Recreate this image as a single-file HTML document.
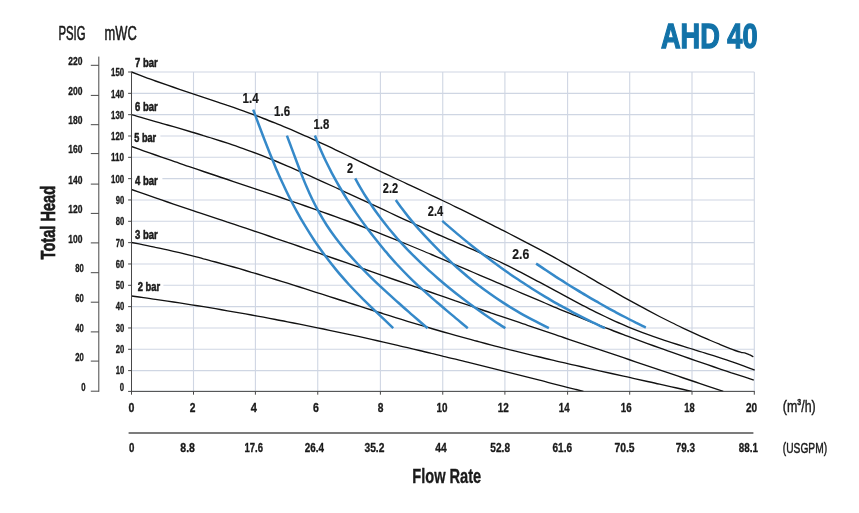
<!DOCTYPE html>
<html><head><meta charset="utf-8"><title>AHD 40</title>
<style>
html,body{margin:0;padding:0;background:#fff;}
body{width:859px;height:513px;overflow:hidden;}
svg{display:block;font-family:"Liberation Sans",sans-serif;}
</style></head><body>
<svg width="859" height="513" viewBox="0 0 859 513">
<rect width="859" height="513" fill="#fff"/>
<path d="M131.50 72.00V391.40M193.50 72.00V391.40M255.40 72.00V391.40M317.75 72.00V391.40M380.40 72.00V391.40M442.75 72.00V391.40M504.90 72.00V391.40M567.60 72.00V391.40M629.70 72.00V391.40M692.00 72.00V391.40M754.30 72.00V391.40M131.50 72.00H754.30M131.50 93.33H754.30M131.50 114.66H754.30M131.50 135.99H754.30M131.50 157.32H754.30M131.50 178.65H754.30M131.50 199.98H754.30M131.50 221.31H754.30M131.50 242.64H754.30M131.50 263.97H754.30M131.50 285.30H754.30M131.50 306.63H754.30M131.50 327.96H754.30M131.50 349.29H754.30M131.50 370.62H754.30M131.50 391.40H754.30" stroke="#cfd6e3" stroke-width="1.1" fill="none"/>
<rect x="132.4" y="131.4" width="28.0" height="12" fill="#fff"/>
<rect x="132.4" y="174.6" width="30.0" height="12" fill="#fff"/>
<rect x="132.4" y="280.6" width="31.0" height="12" fill="#fff"/>
<path d="M131.5 72.0C133.5 72.8 139.5 75.1 143.5 76.6C147.5 78.1 151.5 79.6 155.5 81.0C159.5 82.4 163.5 83.8 167.5 85.2C171.5 86.6 175.5 87.9 179.5 89.3C183.5 90.6 187.5 92.0 191.5 93.3C195.5 94.6 199.5 96.0 203.5 97.3C207.5 98.6 211.5 100.0 215.5 101.3C219.5 102.6 223.5 104.0 227.5 105.4C231.5 106.7 235.5 108.1 239.5 109.6C243.5 111.0 247.5 112.4 251.5 113.9C255.5 115.4 259.5 116.9 263.5 118.5C267.5 120.0 271.5 121.6 275.5 123.2C279.5 124.8 283.5 126.5 287.5 128.2C291.5 129.9 295.5 131.6 299.5 133.4C303.5 135.1 307.5 136.9 311.5 138.7C315.5 140.5 319.5 142.3 323.5 144.2C327.5 146.0 331.5 147.9 335.5 149.8C339.5 151.7 343.5 153.6 347.5 155.5C351.5 157.4 355.5 159.4 359.5 161.3C363.5 163.2 367.5 165.1 371.5 167.1C375.5 169.0 379.5 170.9 383.5 172.8C387.5 174.7 391.5 176.6 395.5 178.5C399.5 180.3 403.5 182.2 407.5 184.1C411.5 185.9 415.5 187.8 419.5 189.7C423.5 191.6 427.5 193.4 431.5 195.3C435.5 197.2 439.5 199.1 443.5 201.0C447.5 202.9 451.5 204.8 455.5 206.8C459.5 208.7 463.5 210.7 467.5 212.6C471.5 214.6 475.5 216.6 479.5 218.6C483.5 220.6 487.5 222.6 491.5 224.6C495.5 226.6 499.5 228.6 503.5 230.7C507.5 232.7 511.5 234.8 515.5 236.8C519.5 238.9 523.5 241.0 527.5 243.1C531.5 245.2 535.5 247.3 539.5 249.4C543.5 251.6 547.5 253.7 551.5 255.9C555.5 258.1 559.5 260.3 563.5 262.6C567.5 264.8 571.5 267.1 575.5 269.4C579.5 271.6 583.5 274.0 587.5 276.3C591.5 278.6 595.5 280.9 599.5 283.3C603.5 285.6 607.5 287.9 611.5 290.2C615.5 292.5 619.5 294.8 623.5 297.1C627.5 299.3 631.5 301.5 635.5 303.7C639.5 305.9 643.5 308.1 647.5 310.2C651.5 312.3 655.5 314.4 659.5 316.5C663.5 318.5 667.5 320.5 671.5 322.5C675.5 324.5 679.5 326.4 683.5 328.3C687.5 330.2 691.5 332.0 695.5 333.9C699.5 335.7 703.5 337.4 707.5 339.2C711.5 340.9 714.9 342.4 719.5 344.2C724.1 346.1 731.6 349.2 735.2 350.5C738.8 351.8 739.4 351.9 741.0 352.3C742.6 352.7 743.3 352.5 744.7 352.9C746.1 353.3 747.8 354.0 749.2 354.6C750.7 355.2 752.7 356.4 753.4 356.7" stroke="#111" stroke-width="1.35" fill="none"/>
<path d="M131.5 114.7C133.5 115.2 139.5 117.0 143.5 118.1C147.5 119.3 151.5 120.4 155.5 121.6C159.5 122.7 163.5 123.8 167.5 125.0C171.5 126.1 175.5 127.3 179.5 128.4C183.5 129.6 187.5 130.8 191.5 132.0C195.5 133.1 199.5 134.3 203.5 135.6C207.5 136.8 211.5 138.0 215.5 139.3C219.5 140.6 223.5 141.9 227.5 143.2C231.5 144.5 235.5 145.9 239.5 147.3C243.5 148.7 247.5 150.1 251.5 151.6C255.5 153.1 259.5 154.6 263.5 156.2C267.5 157.8 271.5 159.4 275.5 161.0C279.5 162.7 283.5 164.4 287.5 166.1C291.5 167.8 295.5 169.5 299.5 171.3C303.5 173.1 307.5 174.8 311.5 176.6C315.5 178.4 319.5 180.2 323.5 182.1C327.5 183.9 331.5 185.7 335.5 187.5C339.5 189.4 343.5 191.2 347.5 193.1C351.5 194.9 355.5 196.8 359.5 198.6C363.5 200.5 367.5 202.3 371.5 204.2C375.5 206.0 379.5 207.9 383.5 209.7C387.5 211.6 391.5 213.4 395.5 215.3C399.5 217.1 403.5 218.9 407.5 220.8C411.5 222.6 415.5 224.4 419.5 226.2C423.5 228.0 427.5 229.8 431.5 231.6C435.5 233.4 439.5 235.2 443.5 236.9C447.5 238.7 451.5 240.4 455.5 242.1C459.5 243.9 463.5 245.6 467.5 247.3C471.5 249.1 475.5 250.8 479.5 252.6C483.5 254.4 487.5 256.1 491.5 258.0C495.5 259.8 499.5 261.7 503.5 263.6C507.5 265.6 511.5 267.6 515.5 269.6C519.5 271.6 523.5 273.7 527.5 275.8C531.5 277.9 535.5 280.0 539.5 282.2C543.5 284.3 547.5 286.5 551.5 288.6C555.5 290.8 559.5 293.0 563.5 295.1C567.5 297.3 571.5 299.4 575.5 301.6C579.5 303.7 583.5 305.8 587.5 307.8C591.5 309.9 595.5 311.9 599.5 313.9C603.5 315.8 607.5 317.7 611.5 319.6C615.5 321.4 619.5 323.2 623.5 324.9C627.5 326.7 631.5 328.3 635.5 329.9C639.5 331.5 643.5 333.0 647.5 334.4C651.5 335.9 655.5 337.3 659.5 338.6C663.5 340.0 667.5 341.3 671.5 342.6C675.5 343.9 679.5 345.1 683.5 346.4C687.5 347.6 691.5 348.8 695.5 350.1C699.5 351.3 703.5 352.5 707.5 353.8C711.5 355.1 715.5 356.3 719.5 357.6C723.5 358.9 727.5 360.2 731.5 361.6C735.5 363.0 739.6 364.5 743.5 365.9C747.4 367.3 752.8 369.5 754.7 370.2" stroke="#111" stroke-width="1.35" fill="none"/>
<path d="M131.5 146.5C133.5 147.2 139.5 149.4 143.5 150.8C147.5 152.2 151.5 153.6 155.5 155.0C159.5 156.4 163.5 157.8 167.5 159.2C171.5 160.6 175.5 162.0 179.5 163.3C183.5 164.7 187.5 166.1 191.5 167.4C195.5 168.8 199.5 170.1 203.5 171.5C207.5 172.8 211.5 174.2 215.5 175.5C219.5 176.9 223.5 178.2 227.5 179.5C231.5 180.9 235.5 182.2 239.5 183.6C243.5 184.9 247.5 186.3 251.5 187.6C255.5 188.9 259.5 190.3 263.5 191.6C267.5 193.0 271.5 194.3 275.5 195.7C279.5 197.1 283.5 198.4 287.5 199.8C291.5 201.2 295.5 202.5 299.5 203.9C303.5 205.3 307.5 206.7 311.5 208.1C315.5 209.5 319.5 210.9 323.5 212.3C327.5 213.8 331.5 215.2 335.5 216.7C339.5 218.1 343.5 219.6 347.5 221.0C351.5 222.5 355.5 224.0 359.5 225.5C363.5 227.0 367.5 228.6 371.5 230.1C375.5 231.7 379.5 233.2 383.5 234.8C387.5 236.4 391.5 238.0 395.5 239.6C399.5 241.2 403.5 242.9 407.5 244.5C411.5 246.2 415.5 247.8 419.5 249.5C423.5 251.2 427.5 252.9 431.5 254.5C435.5 256.2 439.5 257.9 443.5 259.6C447.5 261.4 451.5 263.1 455.5 264.8C459.5 266.5 463.5 268.2 467.5 269.9C471.5 271.6 475.5 273.4 479.5 275.1C483.5 276.8 487.5 278.5 491.5 280.2C495.5 282.0 499.5 283.7 503.5 285.4C507.5 287.1 511.5 288.8 515.5 290.5C519.5 292.2 523.5 293.9 527.5 295.6C531.5 297.3 535.5 299.0 539.5 300.7C543.5 302.4 547.5 304.1 551.5 305.8C555.5 307.4 559.5 309.1 563.5 310.8C567.5 312.4 571.5 314.0 575.5 315.7C579.5 317.3 583.5 318.9 587.5 320.5C591.5 322.1 595.5 323.7 599.5 325.3C603.5 326.9 607.5 328.5 611.5 330.0C615.5 331.6 619.5 333.1 623.5 334.6C627.5 336.1 631.5 337.7 635.5 339.1C639.5 340.6 643.5 342.1 647.5 343.6C651.5 345.0 655.5 346.5 659.5 347.9C663.5 349.4 667.5 350.8 671.5 352.2C675.5 353.6 679.5 355.0 683.5 356.4C687.5 357.8 691.5 359.2 695.5 360.6C699.5 362.0 703.5 363.3 707.5 364.7C711.5 366.1 715.5 367.4 719.5 368.8C723.5 370.1 727.5 371.4 731.5 372.8C735.5 374.1 739.8 375.5 743.5 376.7C747.2 377.9 752.1 379.5 753.8 380.1" stroke="#111" stroke-width="1.35" fill="none"/>
<path d="M131.5 189.5C133.5 190.2 139.5 192.3 143.5 193.7C147.5 195.1 151.5 196.5 155.5 197.9C159.5 199.3 163.5 200.6 167.5 202.0C171.5 203.4 175.5 204.7 179.5 206.1C183.5 207.4 187.5 208.8 191.5 210.1C195.5 211.5 199.5 212.8 203.5 214.1C207.5 215.5 211.5 216.8 215.5 218.2C219.5 219.5 223.5 220.8 227.5 222.2C231.5 223.5 235.5 224.8 239.5 226.2C243.5 227.5 247.5 228.8 251.5 230.2C255.5 231.5 259.5 232.9 263.5 234.2C267.5 235.6 271.5 236.9 275.5 238.3C279.5 239.7 283.5 241.0 287.5 242.4C291.5 243.8 295.5 245.1 299.5 246.5C303.5 247.9 307.5 249.3 311.5 250.7C315.5 252.0 319.5 253.4 323.5 254.8C327.5 256.2 331.5 257.6 335.5 259.0C339.5 260.4 343.5 261.8 347.5 263.2C351.5 264.6 355.5 266.0 359.5 267.4C363.5 268.8 367.5 270.2 371.5 271.6C375.5 273.0 379.5 274.4 383.5 275.8C387.5 277.2 391.5 278.6 395.5 280.0C399.5 281.4 403.5 282.8 407.5 284.2C411.5 285.6 415.5 287.0 419.5 288.3C423.5 289.7 427.5 291.1 431.5 292.5C435.5 293.9 439.5 295.2 443.5 296.6C447.5 298.0 451.5 299.4 455.5 300.8C459.5 302.1 463.5 303.5 467.5 304.9C471.5 306.2 475.5 307.6 479.5 309.0C483.5 310.3 487.5 311.7 491.5 313.1C495.5 314.4 499.5 315.8 503.5 317.2C507.5 318.5 511.5 319.9 515.5 321.2C519.5 322.6 523.5 324.0 527.5 325.3C531.5 326.7 535.5 328.0 539.5 329.4C543.5 330.7 547.5 332.1 551.5 333.4C555.5 334.8 559.5 336.2 563.5 337.5C567.5 338.9 571.5 340.2 575.5 341.6C579.5 342.9 583.5 344.3 587.5 345.6C591.5 347.0 595.5 348.3 599.5 349.7C603.5 351.0 607.5 352.4 611.5 353.7C615.5 355.0 619.5 356.4 623.5 357.7C627.5 359.1 631.5 360.4 635.5 361.8C639.5 363.1 643.5 364.5 647.5 365.8C651.5 367.2 655.5 368.5 659.5 369.9C663.5 371.2 667.5 372.6 671.5 373.9C675.5 375.3 679.5 376.6 683.5 378.0C687.5 379.3 691.5 380.7 695.5 382.0C699.5 383.4 702.9 384.5 707.5 386.1C712.1 387.6 720.7 390.5 723.3 391.4" stroke="#111" stroke-width="1.35" fill="none"/>
<path d="M131.5 242.5C133.5 242.9 139.5 244.0 143.5 244.8C147.5 245.6 151.5 246.4 155.5 247.3C159.5 248.1 163.5 249.0 167.5 249.9C171.5 250.8 175.5 251.8 179.5 252.7C183.5 253.7 187.5 254.7 191.5 255.7C195.5 256.7 199.5 257.7 203.5 258.8C207.5 259.8 211.5 260.9 215.5 262.0C219.5 263.1 223.5 264.2 227.5 265.3C231.5 266.4 235.5 267.6 239.5 268.7C243.5 269.9 247.5 271.1 251.5 272.3C255.5 273.4 259.5 274.6 263.5 275.8C267.5 277.1 271.5 278.3 275.5 279.5C279.5 280.7 283.5 282.0 287.5 283.2C291.5 284.5 295.5 285.7 299.5 287.0C303.5 288.3 307.5 289.5 311.5 290.8C315.5 292.1 319.5 293.4 323.5 294.6C327.5 295.9 331.5 297.2 335.5 298.5C339.5 299.8 343.5 301.1 347.5 302.3C351.5 303.6 355.5 304.9 359.5 306.2C363.5 307.5 367.5 308.7 371.5 310.0C375.5 311.3 379.5 312.6 383.5 313.8C387.5 315.1 391.5 316.3 395.5 317.6C399.5 318.8 403.5 320.1 407.5 321.3C411.5 322.5 415.5 323.7 419.5 324.9C423.5 326.1 427.5 327.3 431.5 328.5C435.5 329.7 439.5 330.8 443.5 332.0C447.5 333.1 451.5 334.3 455.5 335.4C459.5 336.5 463.5 337.6 467.5 338.7C471.5 339.8 475.5 340.9 479.5 341.9C483.5 343.0 487.5 344.0 491.5 345.1C495.5 346.1 499.5 347.1 503.5 348.2C507.5 349.2 511.5 350.2 515.5 351.2C519.5 352.2 523.5 353.1 527.5 354.1C531.5 355.1 535.5 356.0 539.5 357.0C543.5 358.0 547.5 358.9 551.5 359.8C555.5 360.8 559.5 361.7 563.5 362.6C567.5 363.6 571.5 364.5 575.5 365.4C579.5 366.3 583.5 367.2 587.5 368.1C591.5 369.0 595.5 369.9 599.5 370.8C603.5 371.7 607.5 372.6 611.5 373.5C615.5 374.4 619.5 375.3 623.5 376.2C627.5 377.1 631.5 378.0 635.5 378.8C639.5 379.7 643.5 380.6 647.5 381.5C651.5 382.4 655.5 383.3 659.5 384.1C663.5 385.0 667.5 385.9 671.5 386.8C675.5 387.7 680.1 388.7 683.5 389.5C686.9 390.3 690.6 391.1 692.0 391.4" stroke="#111" stroke-width="1.35" fill="none"/>
<path d="M131.5 296.0C133.5 296.3 139.5 297.1 143.5 297.6C147.5 298.2 151.5 298.8 155.5 299.3C159.5 299.9 163.5 300.5 167.5 301.1C171.5 301.7 175.5 302.3 179.5 302.9C183.5 303.5 187.5 304.2 191.5 304.8C195.5 305.4 199.5 306.1 203.5 306.7C207.5 307.4 211.5 308.0 215.5 308.7C219.5 309.4 223.5 310.1 227.5 310.8C231.5 311.5 235.5 312.2 239.5 312.9C243.5 313.6 247.5 314.3 251.5 315.0C255.5 315.7 259.5 316.5 263.5 317.2C267.5 318.0 271.5 318.7 275.5 319.5C279.5 320.2 283.5 321.0 287.5 321.8C291.5 322.6 295.5 323.4 299.5 324.2C303.5 325.0 307.5 325.8 311.5 326.6C315.5 327.4 319.5 328.2 323.5 329.0C327.5 329.9 331.5 330.7 335.5 331.6C339.5 332.4 343.5 333.3 347.5 334.1C351.5 335.0 355.5 335.8 359.5 336.7C363.5 337.6 367.5 338.5 371.5 339.4C375.5 340.3 379.5 341.2 383.5 342.1C387.5 343.0 391.5 343.9 395.5 344.8C399.5 345.8 403.5 346.7 407.5 347.6C411.5 348.6 415.5 349.5 419.5 350.5C423.5 351.4 427.5 352.4 431.5 353.4C435.5 354.3 439.5 355.3 443.5 356.3C447.5 357.2 451.5 358.2 455.5 359.2C459.5 360.2 463.5 361.2 467.5 362.1C471.5 363.1 475.5 364.1 479.5 365.1C483.5 366.1 487.5 367.1 491.5 368.1C495.5 369.1 499.5 370.1 503.5 371.1C507.5 372.1 511.5 373.2 515.5 374.2C519.5 375.2 523.5 376.2 527.5 377.2C531.5 378.2 535.5 379.2 539.5 380.2C543.5 381.3 547.5 382.3 551.5 383.3C555.5 384.3 559.5 385.3 563.5 386.3C567.5 387.4 572.2 388.5 575.5 389.4C578.8 390.2 582.2 391.1 583.5 391.4" stroke="#111" stroke-width="1.35" fill="none"/>
<path d="M253.2 109.6C254.1 112.0 256.8 119.3 258.6 124.2C260.4 129.0 262.2 133.9 264.1 138.7C266.0 143.6 267.9 148.5 269.8 153.3C271.8 158.2 273.8 163.0 275.8 167.9C277.9 172.8 280.0 177.6 282.3 182.5C284.5 187.3 286.8 192.2 289.2 197.0C291.7 201.9 294.2 206.8 296.9 211.6C299.5 216.5 302.3 221.3 305.3 226.2C308.2 231.0 311.3 235.9 314.5 240.8C317.8 245.6 321.2 250.5 324.8 255.3C328.4 260.2 332.2 265.0 336.2 269.9C340.2 274.8 344.5 279.6 348.9 284.5C353.4 289.3 358.2 294.2 363.0 299.1C367.9 303.9 373.0 308.8 378.0 313.6C383.1 318.5 390.7 325.8 393.2 328.2" stroke="#3589c9" stroke-width="2.5" fill="none"/>
<path d="M286.9 135.6C287.7 137.7 290.1 144.2 291.7 148.4C293.3 152.7 294.9 157.0 296.5 161.3C298.1 165.6 299.7 169.8 301.4 174.1C303.1 178.4 304.8 182.7 306.7 187.0C308.5 191.2 310.4 195.5 312.5 199.8C314.6 204.1 316.8 208.4 319.2 212.6C321.6 216.9 324.2 221.2 326.9 225.5C329.7 229.8 332.7 234.0 335.9 238.3C339.1 242.6 342.6 246.9 346.2 251.2C349.9 255.4 353.8 259.7 357.8 264.0C361.8 268.3 366.1 272.6 370.4 276.8C374.8 281.1 379.3 285.4 383.9 289.7C388.5 294.0 393.3 298.2 398.1 302.5C402.8 306.8 407.8 311.1 412.7 315.4C417.6 319.6 425.1 326.1 427.6 328.2" stroke="#3589c9" stroke-width="2.5" fill="none"/>
<path d="M314.9 135.6C315.8 137.7 318.2 144.2 320.1 148.4C321.9 152.7 323.9 157.0 325.9 161.3C328.0 165.6 330.2 169.8 332.4 174.1C334.7 178.4 337.1 182.7 339.6 187.0C342.1 191.2 344.7 195.5 347.4 199.8C350.2 204.1 353.0 208.4 355.9 212.6C358.9 216.9 361.9 221.2 365.1 225.5C368.2 229.8 371.5 234.0 374.9 238.3C378.3 242.6 381.7 246.9 385.3 251.2C389.0 255.4 392.7 259.7 396.6 264.0C400.6 268.3 404.7 272.6 409.0 276.8C413.3 281.1 417.9 285.4 422.6 289.7C427.3 294.0 432.3 298.2 437.2 302.5C442.2 306.8 447.4 311.1 452.5 315.4C457.6 319.6 465.2 326.1 467.8 328.2" stroke="#3589c9" stroke-width="2.5" fill="none"/>
<path d="M355.2 178.3C356.1 180.0 358.8 185.0 360.8 188.3C362.7 191.6 364.7 195.0 366.9 198.3C369.0 201.6 371.2 204.9 373.5 208.3C375.8 211.6 378.3 214.9 380.8 218.3C383.3 221.6 385.9 224.9 388.6 228.3C391.4 231.6 394.2 234.9 397.1 238.3C400.1 241.6 403.1 244.9 406.3 248.3C409.4 251.6 412.7 254.9 416.0 258.2C419.4 261.6 422.9 264.9 426.5 268.2C430.1 271.6 433.9 274.9 437.7 278.2C441.6 281.6 445.5 284.9 449.6 288.2C453.7 291.6 457.9 294.9 462.3 298.2C466.7 301.6 471.2 304.9 475.8 308.2C480.4 311.5 485.2 314.9 490.1 318.2C495.0 321.5 502.8 326.5 505.3 328.2" stroke="#3589c9" stroke-width="2.5" fill="none"/>
<path d="M395.8 200.0C396.8 201.4 399.8 205.7 402.0 208.5C404.1 211.4 406.3 214.2 408.6 217.1C410.9 219.9 413.3 222.8 415.7 225.6C418.2 228.5 420.7 231.3 423.3 234.2C425.9 237.0 428.6 239.9 431.3 242.7C434.0 245.6 436.9 248.4 439.8 251.3C442.7 254.1 445.6 257.0 448.7 259.8C451.7 262.7 454.8 265.5 458.0 268.4C461.2 271.2 464.5 274.1 468.0 276.9C471.5 279.8 475.0 282.6 478.7 285.5C482.5 288.3 486.3 291.2 490.4 294.0C494.4 296.9 498.6 299.7 503.1 302.6C507.5 305.4 512.1 308.3 516.9 311.1C521.8 314.0 526.9 316.8 532.2 319.7C537.5 322.5 546.1 326.8 548.9 328.2" stroke="#3589c9" stroke-width="2.5" fill="none"/>
<path d="M442.2 220.9C444.7 223.0 452.1 229.5 457.0 233.6C461.9 237.7 466.9 241.8 471.8 245.7C476.7 249.6 481.7 253.4 486.6 257.1C491.5 260.9 496.5 264.5 501.4 268.0C506.3 271.5 511.3 275.0 516.2 278.3C521.1 281.6 526.1 284.8 531.0 288.0C535.9 291.1 540.9 294.2 545.8 297.1C550.7 300.1 555.7 302.9 560.6 305.7C565.5 308.5 570.5 311.1 575.4 313.7C580.3 316.3 585.3 318.8 590.2 321.2C595.1 323.6 602.5 327.0 605.0 328.2" stroke="#3589c9" stroke-width="2.5" fill="none"/>
<path d="M536.1 263.6C537.8 264.7 542.7 268.1 546.1 270.3C549.4 272.5 552.7 274.7 556.0 276.9C559.4 279.0 562.7 281.1 566.0 283.2C569.3 285.3 572.7 287.4 576.0 289.4C579.3 291.4 582.6 293.4 586.0 295.4C589.3 297.3 592.6 299.3 595.9 301.2C599.3 303.1 602.6 305.0 605.9 306.8C609.2 308.7 612.6 310.5 615.9 312.3C619.2 314.1 622.5 315.8 625.9 317.5C629.2 319.3 632.5 321.0 635.8 322.7C639.2 324.3 644.1 326.8 645.8 327.6" stroke="#3589c9" stroke-width="2.5" fill="none"/>
<path d="M131.50 71.50V391.90M128.10 72.00H131.50M128.10 93.33H131.50M128.10 114.66H131.50M128.10 135.99H131.50M128.10 157.32H131.50M128.10 178.65H131.50M128.10 199.98H131.50M128.10 221.31H131.50M128.10 242.64H131.50M128.10 263.97H131.50M128.10 285.30H131.50M128.10 306.63H131.50M128.10 327.96H131.50M128.10 349.29H131.50M128.10 370.62H131.50M128.10 391.40H131.50" stroke="#484848" stroke-width="1" fill="none"/>
<path d="M130.90 391.40H754.80M131.50 391.40V394.70M193.50 391.40V394.70M255.40 391.40V394.70M317.75 391.40V394.70M380.40 391.40V394.70M442.75 391.40V394.70M504.90 391.40V394.70M567.60 391.40V394.70M629.70 391.40V394.70M692.00 391.40V394.70M754.30 391.40V394.70" stroke="#484848" stroke-width="1" fill="none"/>
<path d="M98.80 56.6V391.80M90.8 65.30H98.80M90.8 95.40H98.80M90.8 124.70H98.80M90.8 153.60H98.80M90.8 184.10H98.80M90.8 213.40H98.80M90.8 242.90H98.80M90.8 272.70H98.80M90.8 302.20H98.80M90.8 331.90H98.80M90.8 361.10H98.80M90.8 391.20H98.80" stroke="#484848" stroke-width="1" fill="none"/>
<path d="M128.6 433H753.4" stroke="#7c7c7c" stroke-width="1.8" fill="none"/>
<text transform="translate(661.00 48.35) scale(0.7715 1)" font-size="35.2" font-weight="bold" fill="#1272a8" stroke="#1272a8" stroke-width="1.2" vector-effect="non-scaling-stroke" stroke-linejoin="miter">AHD 40</text>
<text transform="translate(58.45 40.20) scale(0.5669 1)" font-size="20" font-weight="normal" fill="#1a1a1a" stroke="#1a1a1a" stroke-width="0.5" vector-effect="non-scaling-stroke" stroke-linejoin="round">PSIG</text>
<text transform="translate(104.55 40.20) scale(0.6443 1)" font-size="20" font-weight="normal" fill="#1a1a1a" stroke="#1a1a1a" stroke-width="0.5" vector-effect="non-scaling-stroke" stroke-linejoin="round">mWC</text>
<text transform="translate(412.25 483.10) scale(0.7305 1)" font-size="20" font-weight="bold" fill="#1a1a1a" stroke="#1a1a1a" stroke-width="0.3" vector-effect="non-scaling-stroke" stroke-linejoin="round">Flow Rate</text>
<text transform="translate(782.80 452.80) scale(0.6908 1)" font-size="14.8" font-weight="normal" fill="#1a1a1a" stroke="#1a1a1a" stroke-width="0.4" vector-effect="non-scaling-stroke" stroke-linejoin="round">(USGPM)</text>
<text transform="translate(68.25 65.00) scale(0.8513 1)" font-size="10" font-weight="bold" fill="#1a1a1a" stroke="#1a1a1a" stroke-width="0.3" vector-effect="non-scaling-stroke" stroke-linejoin="round">220</text>
<text transform="translate(68.25 95.10) scale(0.8513 1)" font-size="10" font-weight="bold" fill="#1a1a1a" stroke="#1a1a1a" stroke-width="0.3" vector-effect="non-scaling-stroke" stroke-linejoin="round">200</text>
<text transform="translate(68.25 124.40) scale(0.8513 1)" font-size="10" font-weight="bold" fill="#1a1a1a" stroke="#1a1a1a" stroke-width="0.3" vector-effect="non-scaling-stroke" stroke-linejoin="round">180</text>
<text transform="translate(68.25 153.30) scale(0.8513 1)" font-size="10" font-weight="bold" fill="#1a1a1a" stroke="#1a1a1a" stroke-width="0.3" vector-effect="non-scaling-stroke" stroke-linejoin="round">160</text>
<text transform="translate(68.25 183.80) scale(0.8513 1)" font-size="10" font-weight="bold" fill="#1a1a1a" stroke="#1a1a1a" stroke-width="0.3" vector-effect="non-scaling-stroke" stroke-linejoin="round">140</text>
<text transform="translate(68.25 213.10) scale(0.8513 1)" font-size="10" font-weight="bold" fill="#1a1a1a" stroke="#1a1a1a" stroke-width="0.3" vector-effect="non-scaling-stroke" stroke-linejoin="round">120</text>
<text transform="translate(68.25 242.60) scale(0.8513 1)" font-size="10" font-weight="bold" fill="#1a1a1a" stroke="#1a1a1a" stroke-width="0.3" vector-effect="non-scaling-stroke" stroke-linejoin="round">100</text>
<text transform="translate(75.15 272.40) scale(0.7644 1)" font-size="10" font-weight="bold" fill="#1a1a1a" stroke="#1a1a1a" stroke-width="0.3" vector-effect="non-scaling-stroke" stroke-linejoin="round">80</text>
<text transform="translate(75.15 301.90) scale(0.7644 1)" font-size="10" font-weight="bold" fill="#1a1a1a" stroke="#1a1a1a" stroke-width="0.3" vector-effect="non-scaling-stroke" stroke-linejoin="round">60</text>
<text transform="translate(75.15 331.60) scale(0.7644 1)" font-size="10" font-weight="bold" fill="#1a1a1a" stroke="#1a1a1a" stroke-width="0.3" vector-effect="non-scaling-stroke" stroke-linejoin="round">40</text>
<text transform="translate(75.15 360.80) scale(0.7644 1)" font-size="10" font-weight="bold" fill="#1a1a1a" stroke="#1a1a1a" stroke-width="0.3" vector-effect="non-scaling-stroke" stroke-linejoin="round">20</text>
<text transform="translate(81.35 390.90) scale(0.7734 1)" font-size="10" font-weight="bold" fill="#1a1a1a" stroke="#1a1a1a" stroke-width="0.3" vector-effect="non-scaling-stroke" stroke-linejoin="round">0</text>
<text transform="translate(111.05 76.30) scale(0.7854 1)" font-size="10" font-weight="bold" fill="#1a1a1a" stroke="#1a1a1a" stroke-width="0.3" vector-effect="non-scaling-stroke" stroke-linejoin="round">150</text>
<text transform="translate(111.05 97.59) scale(0.7854 1)" font-size="10" font-weight="bold" fill="#1a1a1a" stroke="#1a1a1a" stroke-width="0.3" vector-effect="non-scaling-stroke" stroke-linejoin="round">140</text>
<text transform="translate(111.05 118.88) scale(0.7854 1)" font-size="10" font-weight="bold" fill="#1a1a1a" stroke="#1a1a1a" stroke-width="0.3" vector-effect="non-scaling-stroke" stroke-linejoin="round">130</text>
<text transform="translate(111.05 140.17) scale(0.7854 1)" font-size="10" font-weight="bold" fill="#1a1a1a" stroke="#1a1a1a" stroke-width="0.3" vector-effect="non-scaling-stroke" stroke-linejoin="round">120</text>
<text transform="translate(111.05 161.46) scale(0.8122 1)" font-size="10" font-weight="bold" fill="#1a1a1a" stroke="#1a1a1a" stroke-width="0.3" vector-effect="non-scaling-stroke" stroke-linejoin="round">110</text>
<text transform="translate(111.05 182.75) scale(0.7854 1)" font-size="10" font-weight="bold" fill="#1a1a1a" stroke="#1a1a1a" stroke-width="0.3" vector-effect="non-scaling-stroke" stroke-linejoin="round">100</text>
<text transform="translate(115.65 204.04) scale(0.7644 1)" font-size="10" font-weight="bold" fill="#1a1a1a" stroke="#1a1a1a" stroke-width="0.3" vector-effect="non-scaling-stroke" stroke-linejoin="round">90</text>
<text transform="translate(115.65 225.33) scale(0.7644 1)" font-size="10" font-weight="bold" fill="#1a1a1a" stroke="#1a1a1a" stroke-width="0.3" vector-effect="non-scaling-stroke" stroke-linejoin="round">80</text>
<text transform="translate(115.65 246.62) scale(0.7644 1)" font-size="10" font-weight="bold" fill="#1a1a1a" stroke="#1a1a1a" stroke-width="0.3" vector-effect="non-scaling-stroke" stroke-linejoin="round">70</text>
<text transform="translate(115.65 267.91) scale(0.7644 1)" font-size="10" font-weight="bold" fill="#1a1a1a" stroke="#1a1a1a" stroke-width="0.3" vector-effect="non-scaling-stroke" stroke-linejoin="round">60</text>
<text transform="translate(115.65 289.20) scale(0.7644 1)" font-size="10" font-weight="bold" fill="#1a1a1a" stroke="#1a1a1a" stroke-width="0.3" vector-effect="non-scaling-stroke" stroke-linejoin="round">50</text>
<text transform="translate(115.65 310.49) scale(0.7644 1)" font-size="10" font-weight="bold" fill="#1a1a1a" stroke="#1a1a1a" stroke-width="0.3" vector-effect="non-scaling-stroke" stroke-linejoin="round">40</text>
<text transform="translate(115.65 331.78) scale(0.7644 1)" font-size="10" font-weight="bold" fill="#1a1a1a" stroke="#1a1a1a" stroke-width="0.3" vector-effect="non-scaling-stroke" stroke-linejoin="round">30</text>
<text transform="translate(115.65 353.07) scale(0.7644 1)" font-size="10" font-weight="bold" fill="#1a1a1a" stroke="#1a1a1a" stroke-width="0.3" vector-effect="non-scaling-stroke" stroke-linejoin="round">20</text>
<text transform="translate(115.65 374.36) scale(0.7644 1)" font-size="10" font-weight="bold" fill="#1a1a1a" stroke="#1a1a1a" stroke-width="0.3" vector-effect="non-scaling-stroke" stroke-linejoin="round">10</text>
<text transform="translate(119.85 390.80) scale(0.7734 1)" font-size="10" font-weight="bold" fill="#1a1a1a" stroke="#1a1a1a" stroke-width="0.3" vector-effect="non-scaling-stroke" stroke-linejoin="round">0</text>
<text transform="translate(128.45 412.20) scale(0.8039 1)" font-size="13.2" font-weight="bold" fill="#1a1a1a" stroke="#1a1a1a" stroke-width="0.3" vector-effect="non-scaling-stroke" stroke-linejoin="round">0</text>
<text transform="translate(189.75 412.20) scale(0.7767 1)" font-size="13.2" font-weight="bold" fill="#1a1a1a" stroke="#1a1a1a" stroke-width="0.3" vector-effect="non-scaling-stroke" stroke-linejoin="round">2</text>
<text transform="translate(250.85 412.20) scale(0.8448 1)" font-size="13.2" font-weight="bold" fill="#1a1a1a" stroke="#1a1a1a" stroke-width="0.3" vector-effect="non-scaling-stroke" stroke-linejoin="round">4</text>
<text transform="translate(312.95 412.20) scale(0.8039 1)" font-size="13.2" font-weight="bold" fill="#1a1a1a" stroke="#1a1a1a" stroke-width="0.3" vector-effect="non-scaling-stroke" stroke-linejoin="round">6</text>
<text transform="translate(377.75 412.20) scale(0.7767 1)" font-size="13.2" font-weight="bold" fill="#1a1a1a" stroke="#1a1a1a" stroke-width="0.3" vector-effect="non-scaling-stroke" stroke-linejoin="round">8</text>
<text transform="translate(436.55 412.20) scale(0.7494 1)" font-size="13.2" font-weight="bold" fill="#1a1a1a" stroke="#1a1a1a" stroke-width="0.3" vector-effect="non-scaling-stroke" stroke-linejoin="round">10</text>
<text transform="translate(497.85 412.20) scale(0.7494 1)" font-size="13.2" font-weight="bold" fill="#1a1a1a" stroke="#1a1a1a" stroke-width="0.3" vector-effect="non-scaling-stroke" stroke-linejoin="round">12</text>
<text transform="translate(558.75 412.20) scale(0.7358 1)" font-size="13.2" font-weight="bold" fill="#1a1a1a" stroke="#1a1a1a" stroke-width="0.3" vector-effect="non-scaling-stroke" stroke-linejoin="round">14</text>
<text transform="translate(620.75 412.20) scale(0.7358 1)" font-size="13.2" font-weight="bold" fill="#1a1a1a" stroke="#1a1a1a" stroke-width="0.3" vector-effect="non-scaling-stroke" stroke-linejoin="round">16</text>
<text transform="translate(684.25 412.20) scale(0.7085 1)" font-size="13.2" font-weight="bold" fill="#1a1a1a" stroke="#1a1a1a" stroke-width="0.3" vector-effect="non-scaling-stroke" stroke-linejoin="round">18</text>
<text transform="translate(745.95 412.20) scale(0.7630 1)" font-size="13.2" font-weight="bold" fill="#1a1a1a" stroke="#1a1a1a" stroke-width="0.3" vector-effect="non-scaling-stroke" stroke-linejoin="round">20</text>
<text transform="translate(128.95 451.70) scale(0.7358 1)" font-size="13.2" font-weight="bold" fill="#1a1a1a" stroke="#1a1a1a" stroke-width="0.3" vector-effect="non-scaling-stroke" stroke-linejoin="round">0</text>
<text transform="translate(180.25 451.70) scale(0.8012 1)" font-size="13.2" font-weight="bold" fill="#1a1a1a" stroke="#1a1a1a" stroke-width="0.3" vector-effect="non-scaling-stroke" stroke-linejoin="round">8.8</text>
<text transform="translate(244.55 451.70) scale(0.7202 1)" font-size="13.2" font-weight="bold" fill="#1a1a1a" stroke="#1a1a1a" stroke-width="0.3" vector-effect="non-scaling-stroke" stroke-linejoin="round">17.6</text>
<text transform="translate(304.85 451.70) scale(0.7475 1)" font-size="13.2" font-weight="bold" fill="#1a1a1a" stroke="#1a1a1a" stroke-width="0.3" vector-effect="non-scaling-stroke" stroke-linejoin="round">26.4</text>
<text transform="translate(364.45 451.70) scale(0.7786 1)" font-size="13.2" font-weight="bold" fill="#1a1a1a" stroke="#1a1a1a" stroke-width="0.3" vector-effect="non-scaling-stroke" stroke-linejoin="round">35.2</text>
<text transform="translate(435.25 451.70) scale(0.7835 1)" font-size="13.2" font-weight="bold" fill="#1a1a1a" stroke="#1a1a1a" stroke-width="0.3" vector-effect="non-scaling-stroke" stroke-linejoin="round">44</text>
<text transform="translate(490.35 451.70) scale(0.7669 1)" font-size="13.2" font-weight="bold" fill="#1a1a1a" stroke="#1a1a1a" stroke-width="0.3" vector-effect="non-scaling-stroke" stroke-linejoin="round">52.8</text>
<text transform="translate(552.45 451.70) scale(0.7669 1)" font-size="13.2" font-weight="bold" fill="#1a1a1a" stroke="#1a1a1a" stroke-width="0.3" vector-effect="non-scaling-stroke" stroke-linejoin="round">61.6</text>
<text transform="translate(614.45 451.70) scale(0.7825 1)" font-size="13.2" font-weight="bold" fill="#1a1a1a" stroke="#1a1a1a" stroke-width="0.3" vector-effect="non-scaling-stroke" stroke-linejoin="round">70.5</text>
<text transform="translate(675.65 451.70) scale(0.7552 1)" font-size="13.2" font-weight="bold" fill="#1a1a1a" stroke="#1a1a1a" stroke-width="0.3" vector-effect="non-scaling-stroke" stroke-linejoin="round">79.3</text>
<text transform="translate(738.85 451.70) scale(0.7475 1)" font-size="13.2" font-weight="bold" fill="#1a1a1a" stroke="#1a1a1a" stroke-width="0.3" vector-effect="non-scaling-stroke" stroke-linejoin="round">88.1</text>
<text transform="translate(135.05 67.10) scale(0.7306 1)" font-size="13" font-weight="bold" fill="#1a1a1a" stroke="#1a1a1a" stroke-width="0.5" vector-effect="non-scaling-stroke" stroke-linejoin="round">7 bar</text>
<text transform="translate(135.05 111.20) scale(0.7306 1)" font-size="13" font-weight="bold" fill="#1a1a1a" stroke="#1a1a1a" stroke-width="0.5" vector-effect="non-scaling-stroke" stroke-linejoin="round">6 bar</text>
<text transform="translate(134.25 141.90) scale(0.7049 1)" font-size="13" font-weight="bold" fill="#1a1a1a" stroke="#1a1a1a" stroke-width="0.5" vector-effect="non-scaling-stroke" stroke-linejoin="round">5 bar</text>
<text transform="translate(135.05 185.10) scale(0.7306 1)" font-size="13" font-weight="bold" fill="#1a1a1a" stroke="#1a1a1a" stroke-width="0.5" vector-effect="non-scaling-stroke" stroke-linejoin="round">4 bar</text>
<text transform="translate(135.05 238.70) scale(0.7306 1)" font-size="13" font-weight="bold" fill="#1a1a1a" stroke="#1a1a1a" stroke-width="0.5" vector-effect="non-scaling-stroke" stroke-linejoin="round">3 bar</text>
<text transform="translate(137.65 291.10) scale(0.7242 1)" font-size="13" font-weight="bold" fill="#1a1a1a" stroke="#1a1a1a" stroke-width="0.5" vector-effect="non-scaling-stroke" stroke-linejoin="round">2 bar</text>
<text transform="translate(242.60 102.60) scale(0.7722 1)" font-size="15" font-weight="bold" fill="#1a1a1a" stroke="#1a1a1a" stroke-width="0.2" vector-effect="non-scaling-stroke" stroke-linejoin="round">1.4</text>
<text transform="translate(274.10 116.40) scale(0.7626 1)" font-size="15" font-weight="bold" fill="#1a1a1a" stroke="#1a1a1a" stroke-width="0.2" vector-effect="non-scaling-stroke" stroke-linejoin="round">1.6</text>
<text transform="translate(313.50 128.90) scale(0.7578 1)" font-size="15" font-weight="bold" fill="#1a1a1a" stroke="#1a1a1a" stroke-width="0.2" vector-effect="non-scaling-stroke" stroke-linejoin="round">1.8</text>
<text transform="translate(347.00 172.70) scale(0.7314 1)" font-size="15" font-weight="bold" fill="#1a1a1a" stroke="#1a1a1a" stroke-width="0.2" vector-effect="non-scaling-stroke" stroke-linejoin="round">2</text>
<text transform="translate(382.80 192.70) scale(0.7338 1)" font-size="15" font-weight="bold" fill="#1a1a1a" stroke="#1a1a1a" stroke-width="0.2" vector-effect="non-scaling-stroke" stroke-linejoin="round">2.2</text>
<text transform="translate(427.80 216.40) scale(0.7338 1)" font-size="15" font-weight="bold" fill="#1a1a1a" stroke="#1a1a1a" stroke-width="0.2" vector-effect="non-scaling-stroke" stroke-linejoin="round">2.4</text>
<text transform="translate(512.20 258.90) scale(0.8153 1)" font-size="15" font-weight="bold" fill="#1a1a1a" stroke="#1a1a1a" stroke-width="0.2" vector-effect="non-scaling-stroke" stroke-linejoin="round">2.6</text>
<text transform="translate(55.0 259.40) rotate(-90) scale(0.7295 1)" font-size="20" font-weight="bold" fill="#1a1a1a" stroke="#1a1a1a" stroke-width="0.6" vector-effect="non-scaling-stroke">Total Head</text>
<text transform="translate(782.80 411.8) scale(0.7772 1)" font-size="16" fill="#1a1a1a" stroke="#1a1a1a" stroke-width="0.4" vector-effect="non-scaling-stroke">(m<tspan dy="-6.6" font-size="9" font-weight="bold">3</tspan><tspan dy="6.6">/h)</tspan></text>

</svg>
</body></html>
